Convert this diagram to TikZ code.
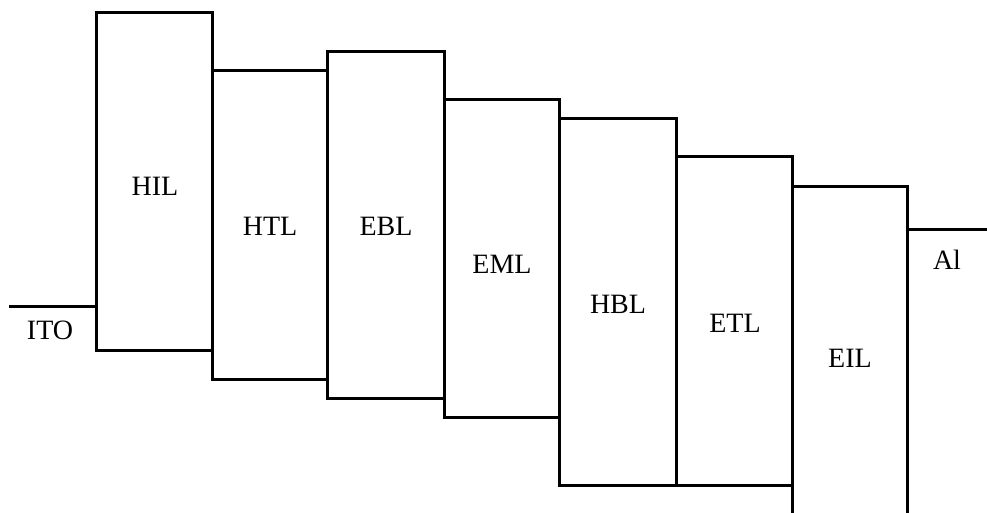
\documentclass[tikz,border=0pt]{standalone}
\usepackage{fontspec}
\setmainfont{Liberation Serif}
\begin{document}
\begin{tikzpicture}[x=1pt,y=-1pt,
  layer/.style={draw=black,line width=3pt},
  lbl/.style={font=\fontsize{28}{32}\selectfont,inner sep=0pt}]
\useasboundingbox (0,0) rectangle (987,512);
% electrode lines
\draw[layer] (9,306) -- (96,306);
\draw[layer] (907,229) -- (987,229);
% stacked layers
\draw[layer] (96,12) rectangle (212,350);
\draw[layer] (212,70) rectangle (327,379);
\draw[layer] (327,51) rectangle (444,398);
\draw[layer] (444,99) rectangle (559,417);
\draw[layer] (559,118) rectangle (676,485);
\draw[layer] (676,156) rectangle (792,485);
\draw[layer] (792,514) -- (792,186) -- (907,186) -- (907,514);
% labels
\node[lbl] (ito) at (50,330) {ITO};
\node[lbl] (hil) at (155,186) {HIL};
\node[lbl] (htl) at (270,226) {HTL};
\node[lbl] (ebl) at (386,226) {EBL};
\node[lbl] (eml) at (502,264) {EML};
\node[lbl] (hbl) at (618,304) {HBL};
\node[lbl] (etl) at (735,323) {ETL};
\node[lbl] (eil) at (850,358) {EIL};
\node[lbl] (al) at (947,260) {Al};
\end{tikzpicture}
\end{document}
